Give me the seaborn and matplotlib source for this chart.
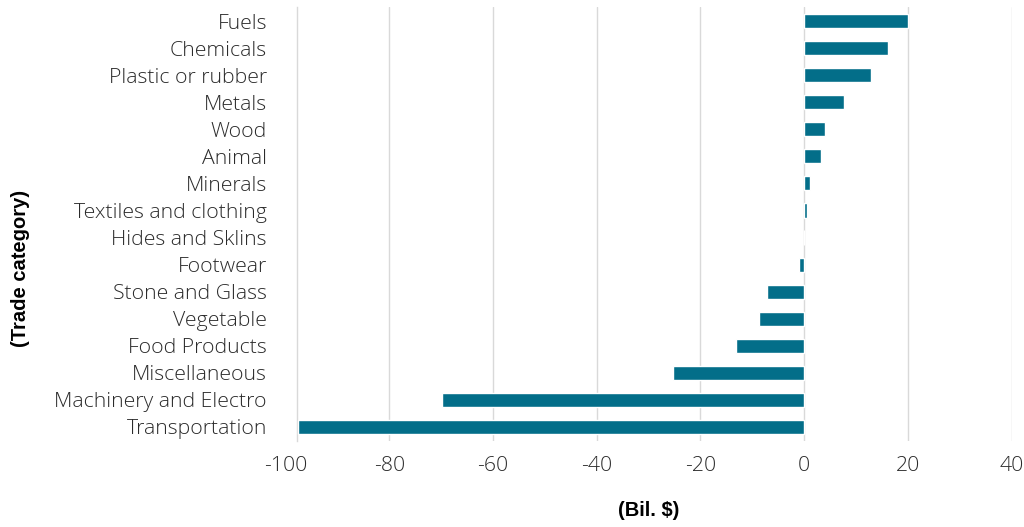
import matplotlib
matplotlib.use("Agg")
import matplotlib.pyplot as plt
import seaborn as sns
import pandas as pd

# Trade balance by category, billions of dollars
categories = [
    "Fuels", "Chemicals", "Plastic or rubber", "Metals", "Wood", "Animal",
    "Minerals", "Textiles and clothing", "Hides and Sklins", "Footwear",
    "Stone and Glass", "Vegetable", "Food Products", "Miscellaneous",
    "Machinery and Electro", "Transportation",
]
balance = [20.1, 16.2, 12.9, 7.7, 4.1, 3.2, 1.2, 0.6, 0.0, -1.0,
           -7.1, -8.6, -13.1, -25.3, -69.8, -97.6]
x_ticks = [-80, -60, -40, -20, 0, 20, 40]
x_min, x_max = -97.7, 40

df = pd.DataFrame({"category": categories, "balance": balance})

sns.set_theme(style="white")
plt.rcParams["font.family"] = ["Open Sans", "DejaVu Sans"]

fig = plt.figure(figsize=(10.24, 5.27), dpi=100)
ax = fig.add_axes([0.2905, 0.1641, 0.6973, 0.8217])

sns.barplot(data=df, x="balance", y="category", orient="h",
            color="#036e89", width=0.52, saturation=1, ax=ax, zorder=3)

ax.set_xlim(x_min, x_max)
ax.set_ylim(15.5, -0.5)
ax.set_xticks(x_ticks)
ax.set_xticklabels([str(t) for t in x_ticks])

grid_col = "#d9d9d9"
for t in x_ticks:
    ax.axvline(t, color=grid_col, lw=1.0, zorder=1)

for s in ["top", "right", "bottom"]:
    ax.spines[s].set_visible(False)
ax.spines["left"].set_color(grid_col)
ax.spines["left"].set_linewidth(1.0)

label_col = "#2b2b2b"
pad = 11
fs = 15.3
ax.tick_params(axis="x", length=0, pad=pad, labelsize=fs, labelcolor=label_col)
ax.tick_params(axis="y", length=0, pad=22, labelsize=fs, labelcolor=label_col)
for lab in ax.get_xticklabels() + ax.get_yticklabels():
    lab.set_fontweight("light")

# leftmost tick label sits just outside the data range
ax.annotate("-100", xy=(-100, 0), xycoords=("data", "axes fraction"),
            xytext=(0, -pad), textcoords="offset points",
            ha="center", va="top", fontsize=fs, color=label_col,
            fontweight="light", annotation_clip=False)

ax.set_xlabel("")
ax.set_ylabel("")
fig.text(0.633, 0.032, "(Bil. $)", ha="center", va="center",
         fontsize=14.5, fontweight="bold", family="Liberation Sans", color="black")
fig.text(0.0205, 0.491, "(Trade category)", ha="center", va="center",
         rotation=90, fontsize=14.5, fontweight="bold", family="Liberation Sans",
         color="black")

fig.savefig("out.png", dpi=100)
